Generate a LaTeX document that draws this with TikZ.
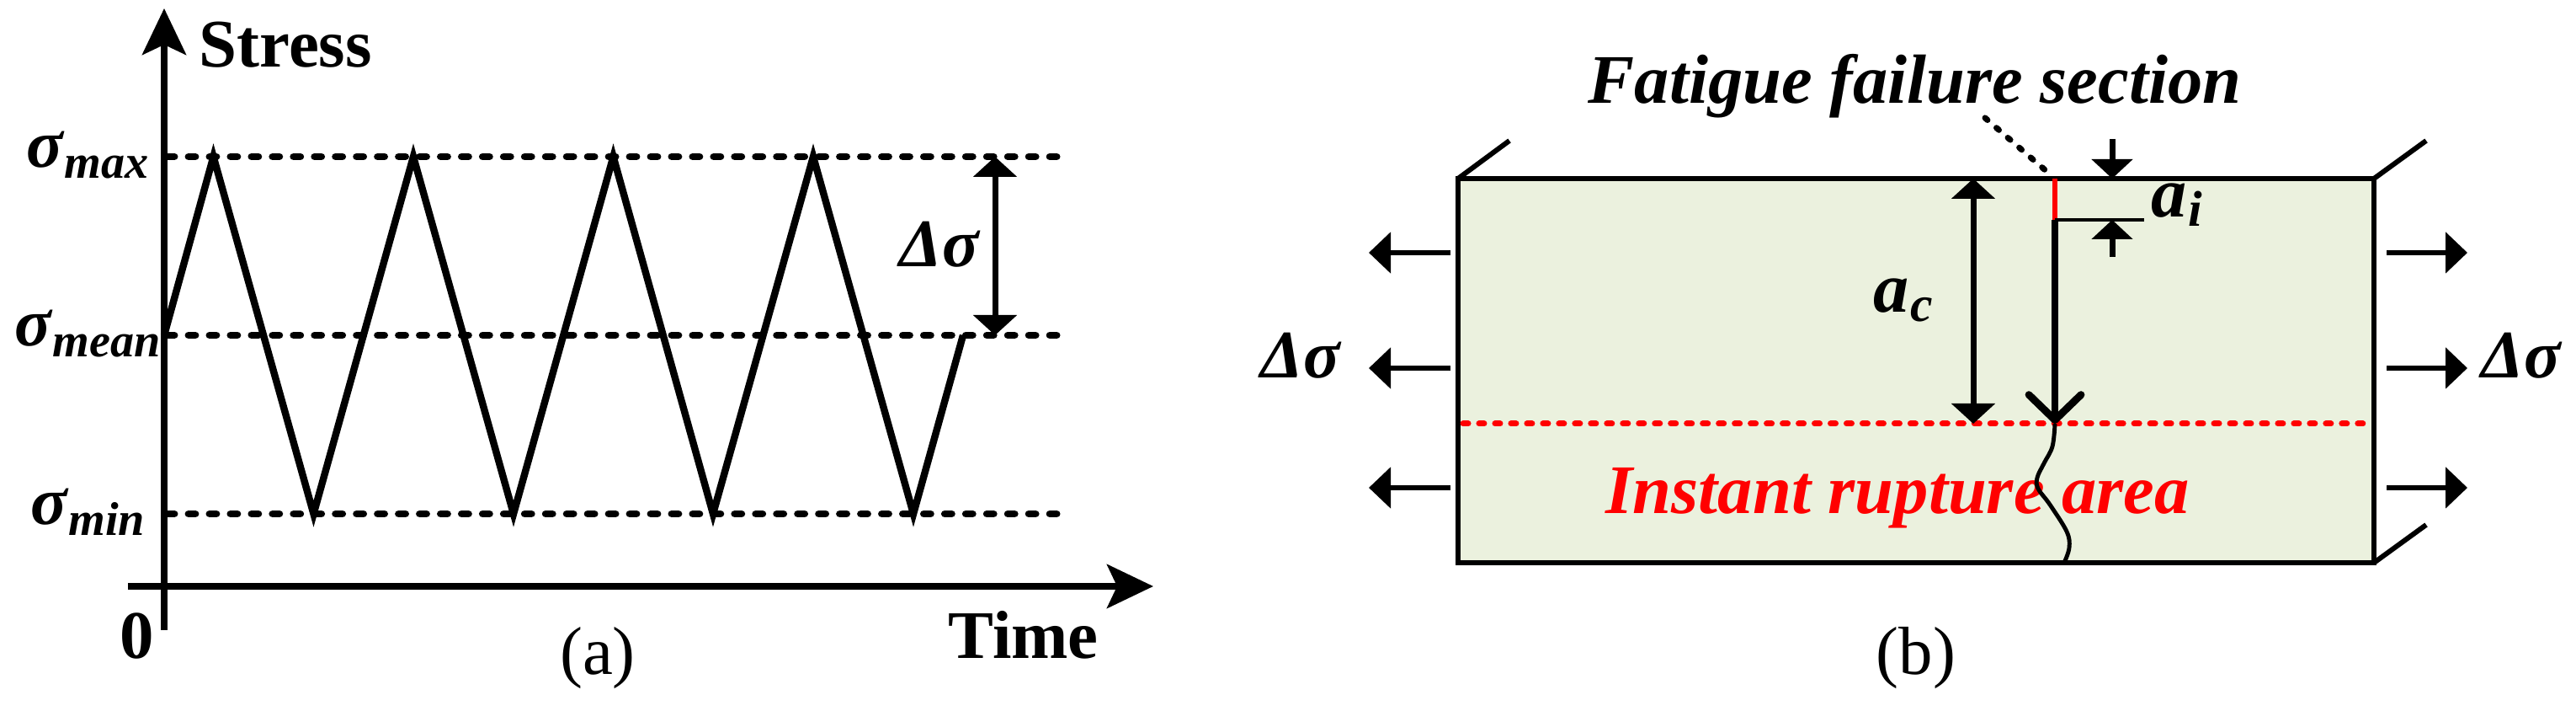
\documentclass[tikz,border=0pt]{standalone}
\usepackage{fontspec}
\setmainfont{Liberation Serif}
\usetikzlibrary{arrows.meta}
\definecolor{platefill}{RGB}{235,241,222}
\newcommand{\sigl}[1]{σ\kern0.5pt\raisebox{-3.5pt}{\fontsize{16}{16}\selectfont #1}}
\newcommand{\asub}[1]{a\kern0.5pt\raisebox{-3pt}{\fontsize{17}{17}\selectfont #1}}
\begin{document}
\begin{tikzpicture}[
  axis/.style={line width=2.2pt,-{Stealth[length=0.55cm,width=0.52cm,inset=0.12cm]}},
  level/.style={line width=2.5pt,line cap=round,dash pattern=on 2.3pt off 4.8pt},
  wave/.style={line width=2.4pt,line join=miter},
  edge/.style={line width=1.7pt},
  dim/.style={line width=2pt,{Triangle[width=0.51cm,length=0.24cm]}-{Triangle[width=0.51cm,length=0.24cm]}},
  half/.style={line width=2pt,-{Triangle[width=0.48cm,length=0.23cm]}},
  force/.style={line width=1.6pt,-{Triangle[width=0.48cm,length=0.26cm]}},
  plain/.style={inner sep=0pt,font=\fontsize{23}{23}\selectfont},
  upbold/.style={inner sep=0pt,font=\fontsize{23}{23}\selectfont\bfseries},
  symb/.style={inner sep=0pt,font=\fontsize{23}{23}\selectfont\bfseries\itshape},
]
\useasboundingbox (0,0) rectangle (30.6,8.44);
\coordinate (ybot) at (1.95,0.96);
\coordinate (ytop) at (1.95,8.34);
\coordinate (xleft) at (1.52,1.48);
\coordinate (xright) at (13.70,1.48);
\foreach \n/\y in {max/6.58,mean/4.46,min/2.34}{
  \coordinate (l\n) at (1.99,\y);
  \coordinate (r\n) at (12.56,\y);
  \draw[level] (l\n)--(r\n);
  \node[symb,anchor=base] (s\n) at (1.04,\y-0.13) {\sigl{\n}};
}
\draw[wave] (1.95,4.46)--(2.535,6.58)--(3.725,2.34)--(4.91,6.58)--(6.10,2.34)--(7.285,6.58)--(8.47,2.34)--(9.66,6.58)--(10.85,2.34)--(11.44,4.46);
\draw[axis] (ybot)--(ytop);
\draw[axis] (xleft)--(xright);
\coordinate (dtop) at (11.82,6.58);
\coordinate (dbot) at (11.82,4.46);
\draw[dim] (dtop)--(dbot);
\node[symb] (dsa) at (11.16,5.54) {Δσ};
\node[upbold,anchor=base west] (stress) at (2.36,7.64) {Stress};
\node[upbold,anchor=base west] (time) at (11.26,0.62) {Time};
\node[upbold,anchor=base] (zero) at (1.63,0.62) {0};
\node[plain,anchor=base] (capa) at (7.10,0.43) {(a)};
\coordinate (pbl) at (17.32,1.76);
\coordinate (ptr) at (28.20,6.32);
\draw[edge,fill=platefill] (pbl) rectangle (ptr);
\draw[edge] (pbl|-ptr)--++(0.61,0.45);
\draw[edge] (ptr)--++(0.62,0.45);
\draw[edge] (ptr|-pbl)--++(0.62,0.45);
\draw[red,line width=2pt,line cap=round,dash pattern=on 1.7pt off 3.7pt] (17.38,3.41)--(28.15,3.41);
\foreach \y in {5.44,4.07,2.65}{
  \draw[force] (17.23,\y)--(16.26,\y);
  \draw[force] (28.35,\y)--(29.31,\y);
}
\node[symb] (dsl) at (15.45,4.22) {Δσ};
\node[symb] (dsr) at (29.95,4.22) {Δσ};
\node[symb,anchor=base west,font=\fontsize{23.5}{23.5}\selectfont\bfseries\itshape] (fatigue) at (18.86,7.21) {Fatigue failure section};
\node[symb,anchor=base west,red,font=\fontsize{23.5}{23.5}\selectfont\bfseries\itshape] (rupture) at (19.07,2.34) {Instant rupture area};
\node[plain,anchor=base] (capb) at (22.76,0.43) {(b)};
\coordinate (cr0) at (24.41,6.32);
\coordinate (cr1) at (24.41,5.83);
\coordinate (cr2) at (25.47,5.83);
\coordinate (crtip) at (24.41,3.41);
\coordinate (crend) at (24.52,1.76);
\coordinate (lead) at (23.58,7.04);
\draw[line width=2pt,line cap=round,dash pattern=on 1.1pt off 4pt,shorten >=2pt] (lead)--(cr0);
\draw[red,line width=1.5pt] (cr0)--(cr1);
\draw[line width=1.4pt] (cr1)--(cr2);
\draw[line width=2.5pt,-{Straight Barb[length=0.3cm,width=0.62cm,round]}] (cr1)--(crtip);
\draw[line width=1.4pt] plot[smooth,tension=0.6] coordinates {(crtip) (24.38,3.14) (24.28,2.94) (24.20,2.77) (24.21,2.64) (24.35,2.45) (24.55,2.13) (24.58,1.94) (crend)};
\coordinate (actop) at (23.44,6.32);
\coordinate (acbot) at (23.44,3.41);
\draw[dim] (actop)--(acbot);
\node[symb,anchor=base west,font=\fontsize{24}{24}\selectfont\bfseries\itshape] (ac) at (22.25,4.73) {\asub{c}};
\coordinate (aitop) at (25.09,6.79);
\coordinate (aiup) at (25.09,6.32);
\coordinate (aibot) at (25.09,5.39);
\coordinate (ailow) at (25.09,5.83);
\draw[half] (aitop)--(aiup);
\draw[half] (aibot)--(ailow);
\node[symb,anchor=base west,font=\fontsize{24}{24}\selectfont\bfseries\itshape] (ai) at (25.55,5.86) {\asub{i}};
\end{tikzpicture}
\end{document}
